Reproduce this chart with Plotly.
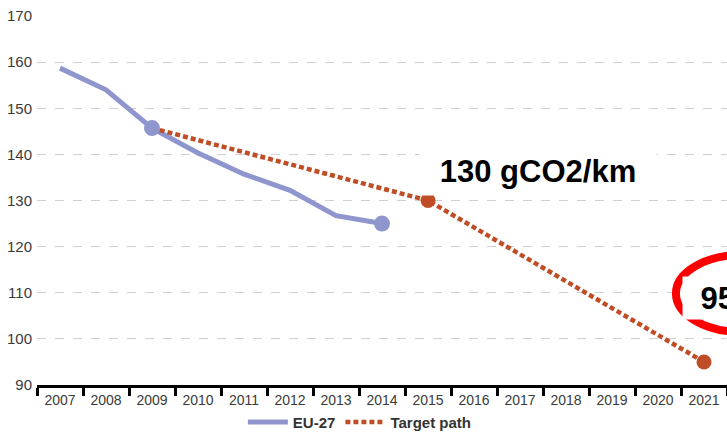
import plotly.graph_objects as go

years = [str(y) for y in range(2007, 2022)]
eu_years = ["2007", "2008", "2009", "2010", "2011", "2012", "2013", "2014"]
eu_values = [158.7, 154.0, 145.7, 140.3, 135.7, 132.2, 126.7, 125.0]
eu_marked = [2, 7]
target_years = ["2009", "2015", "2021"]
target_values = [145.7, 130.0, 95.0]
target_marked = [1, 2]
y_ticks = [90, 100, 110, 120, 130, 140, 150, 160, 170]

EU_COLOR = "#8F96CE"
TARGET_COLOR = "#BF4E26"
FONT = "Liberation Sans, Arial, sans-serif"

fig = go.Figure()

fig.add_trace(go.Scatter(
    x=eu_years, y=eu_values, name="EU-27",
    mode="lines",
    line=dict(color=EU_COLOR, width=5),
))
fig.add_trace(go.Scatter(
    x=target_years, y=target_values, name="Target path",
    mode="lines",
    line=dict(color=TARGET_COLOR, width=4.5, dash="5px,3px"),
))
fig.add_trace(go.Scatter(
    x=[target_years[i] for i in target_marked], y=[target_values[i] for i in target_marked],
    mode="markers", showlegend=False,
    marker=dict(color=TARGET_COLOR, size=15),
))
fig.add_trace(go.Scatter(
    x=[eu_years[i] for i in eu_marked], y=[eu_values[i] for i in eu_marked],
    mode="markers", showlegend=False,
    marker=dict(color=EU_COLOR, size=16),
))

# value labels
fig.add_annotation(x=eu_years[2], y=eu_values[2], text="145.7", showarrow=False,
                   yshift=-39, font=dict(family=FONT, size=14, color="#444"))
fig.add_annotation(x=eu_years[-1], y=eu_values[-1], text="125.0", showarrow=False,
                   yshift=-33, font=dict(family=FONT, size=14, color="#444"))
fig.add_annotation(x=target_years[-1], y=target_values[-1], text="95.0", showarrow=False,
                   yshift=36, font=dict(family=FONT, size=14, color="#444"))

# red ellipse
fig.add_shape(type="circle", xref="paper", yref="y",
              x0=0.926, x1=1.117, y0=101.5, y1=118.2,
              line=dict(color="#FF0000", width=8), layer="above")

# callouts
fig.add_annotation(x=0.726, xref="paper", y=0.578, yref="paper",
                   text="<b>130 gCO2/km</b>", showarrow=False,
                   font=dict(family=FONT, size=31, color="#000"),
                   bgcolor="white", width=232, height=43, borderpad=2,
                   xanchor="center", yanchor="middle")
fig.add_annotation(x=0.935, xref="paper", y=0.236, yref="paper",
                   text="<b>95 gCO2/km</b>", showarrow=False,
                   font=dict(family=FONT, size=31, color="#000"),
                   bgcolor="white", width=210, height=38, borderpad=2,
                   xanchor="left", yanchor="middle")

fig.update_layout(
    width=727, height=433,
    margin=dict(l=37, r=0, t=16, b=48),
    plot_bgcolor="white", paper_bgcolor="white",
    showlegend=True,
    legend=dict(orientation="h", xref="container", yref="container",
                x=0.495, xanchor="center", y=0.025, yanchor="middle",
                font=dict(family=FONT, size=15, color="#333", weight="bold"),
                itemwidth=40),
    font=dict(family=FONT),
)
fig.update_xaxes(
    type="category", categoryorder="array", categoryarray=years,
    range=[-0.5, 14.5], automargin=False,
    showline=True, linecolor="black", linewidth=3,
    ticks="outside", tickson="boundaries", ticklen=8, tickwidth=3, tickcolor="black",
    showgrid=False, tickangle=0,
    tickfont=dict(family=FONT, size=14, color="#3a3a3a"),
)
fig.update_yaxes(
    range=[90, 170], tickvals=y_ticks, automargin=False,
    showgrid=True, gridcolor="#D0D0D0", gridwidth=1, griddash="dash",
    zeroline=False, showline=False,
    tickfont=dict(family=FONT, size=15, color="#3a3a3a"),
    ticklabelstandoff=4,
)

fig.write_html("out.html", config={"displayModeBar": False},
               post_script="document.body.style.margin='0';document.body.style.overflow='hidden';")
